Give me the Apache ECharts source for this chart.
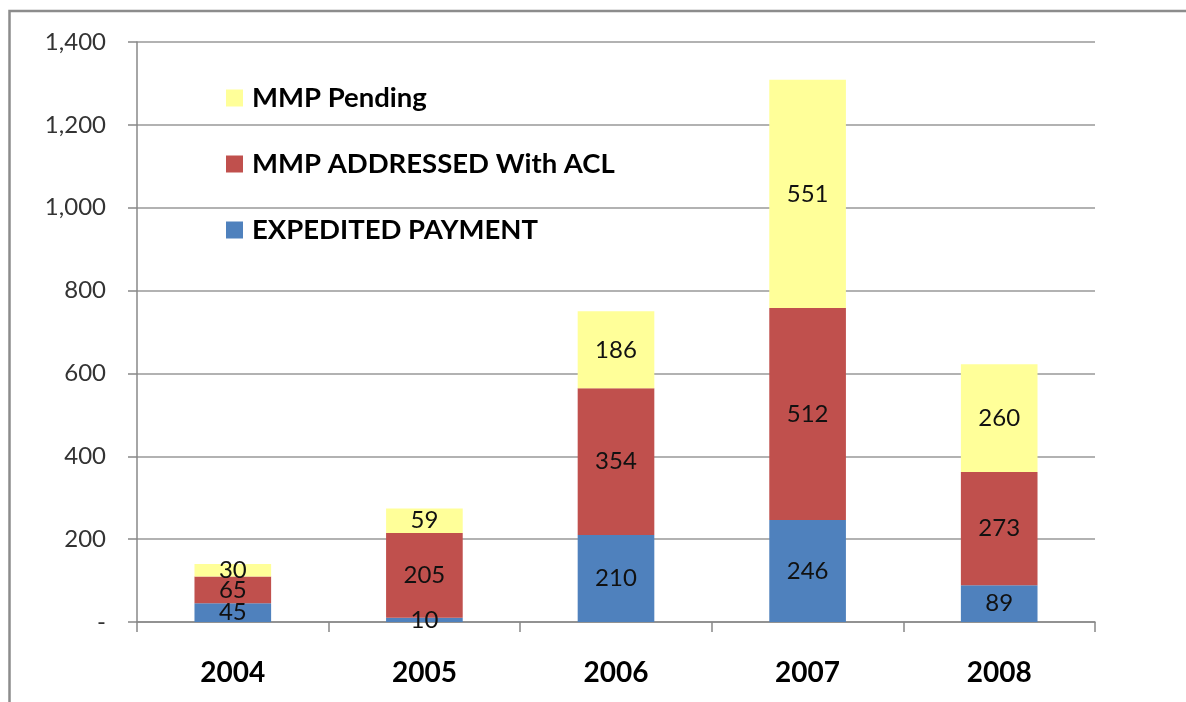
<!DOCTYPE html>
<html>
<head>
<meta charset="utf-8">
<script src="https://cdn.jsdelivr.net/npm/echarts@6/dist/echarts.min.js"></script>
<style>html,body{margin:0;padding:0;background:#fff}#c{width:1186px;height:702px}</style>
</head>
<body>
<div id="c"></div>
<script>
var years = ['2004', '2005', '2006', '2007', '2008'];
var expedited = [45, 10, 210, 246, 89];
var addressed = [65, 205, 354, 512, 273];
var pending = [30, 59, 186, 551, 260];
var yTicks = [0, 200, 400, 600, 800, 1000, 1200, 1400];

var chart = echarts.init(document.getElementById('c'));
var font = 'Lato, "Open Sans", sans-serif';
var lbl = { show: true, position: 'inside', color: '#111', fontSize: 24, fontFamily: font };
function ser(name, data, color) {
  return { name: name, type: 'bar', stack: 't', data: data, barCategoryGap: '60%',
    itemStyle: { color: color }, label: lbl, emphasis: { disabled: true } };
}
chart.setOption({
  animation: false,
  graphic: [{ type: 'rect', shape: { x: 9.5, y: 11, width: 1300, height: 800 },
    style: { fill: 'none', stroke: '#8c8c8c', lineWidth: 2.5 }, z: 100 }],
  legend: {
    orient: 'vertical', left: 221, top: 79, itemGap: 38, itemWidth: 17, itemHeight: 17,
    icon: 'rect',
    data: ['MMP Pending', 'MMP ADDRESSED With ACL', 'EXPEDITED PAYMENT'],
    textStyle: { fontSize: 27.5, fontWeight: 'bold', color: '#000', fontFamily: font, padding: [0, 0, 0, 4] }
  },
  grid: { left: 137, right: 91, top: 42, bottom: 80 },
  xAxis: {
    type: 'category', data: years,
    axisLine: { lineStyle: { color: '#888', width: 1.5 } },
    axisTick: { show: true, length: 10, lineStyle: { color: '#888', width: 1.5 } },
    axisLabel: { margin: 37, fontSize: 28, fontWeight: 'bold', color: '#000', fontFamily: font }
  },
  yAxis: {
    type: 'value', min: 0, max: 1400, interval: 200,
    axisLine: { show: true, lineStyle: { color: '#888', width: 1.5 } },
    axisTick: { show: true, length: 9, lineStyle: { color: '#888', width: 1.5 } },
    splitLine: { lineStyle: { color: '#999', width: 1.5 } },
    axisLabel: { margin: 31, fontSize: 24, color: '#333', fontFamily: font,
      formatter: function (v) { return v === 0 ? '-' : v.toLocaleString('en-US'); } }
  },
  series: [
    ser('EXPEDITED PAYMENT', expedited, '#4F81BD'),
    ser('MMP ADDRESSED With ACL', addressed, '#C0504D'),
    ser('MMP Pending', pending, '#FFFF99')
  ]
});
</script>
</body>
</html>
